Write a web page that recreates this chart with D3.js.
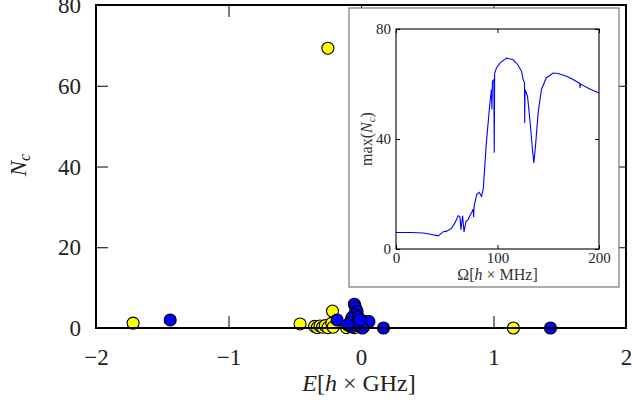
<!DOCTYPE html>
<html><head><meta charset="utf-8">
<script src="https://cdn.jsdelivr.net/npm/d3@7"></script>
<style>
html,body{margin:0;padding:0;background:#fff;}
text{font-family:"Liberation Serif","DejaVu Serif",serif;}
</style></head>
<body><svg id="c" width="632" height="402"></svg>
<script>
// ---- data ----
const yellowPts = [
  [-1.72,1.2],[-0.46,1.0],[-0.25,69.3],[-0.215,4.2],[-0.35,0.4],[-0.33,0.1],
  [-0.31,0.5],[-0.29,0.2],[-0.27,0.6],[-0.25,0.1],[-0.22,1.2],[-0.21,0.2],
  [-0.11,0.1],[-0.08,0.4],[-0.05,0.1],[-0.03,0.7],[1.15,0.0]
];
const bluePts = [
  [-1.44,2.0],[-0.18,2.0],[-0.05,5.9],[-0.04,5.0],[-0.03,4.1],[-0.05,3.3],
  [-0.07,2.5],[-0.08,1.5],[-0.07,0.3],[-0.02,2.7],[0.0,1.2],[0.02,0.3],
  [0.03,1.6],[0.06,1.6],[0.01,0.0],[-0.04,0.8],[-0.01,2.0],[-0.10,0.8],
  [0.17,0.0],[1.43,0.0]
];
const insetCurve = [
  [0,6.0],[15,6.0],[27,5.8],[35,5.3],[41.7,4.8],[46.6,6.3],[50,6.5],[54.8,7.6],
  [58,9.5],[61.3,12.1],[63,11.8],[64,7.0],[65.6,12.1],[67,6.2],[68.9,10.0],
  [71,10.7],[72.8,12.1],[74.5,13.3],[76,14.5],[76.5,11.6],[76.9,15.3],
  [79.4,19.8],[82,20.6],[84.3,19.1],[86,22],[89,38.5],[92.5,53],[94,58],
  [94.5,50.7],[95,61],[96.4,61.6],[96.8,35],[97.2,64],[99,65.8],[102.3,67.6],
  [109,69.4],[115.5,68.8],[120,67],[123.7,64.6],[125.3,61.6],[126.6,60.5],
  [126.8,45.8],[127.1,58],[129.6,55.5],[131.9,47],[134.5,36],[135.8,31.3],
  [137.4,37.3],[140,49.4],[143.3,58],[148,62.2],[154.8,64],[159.7,63.8],
  [168,62.8],[174.5,61.6],[181,60.2],[181.4,58.6],[181.8,60.0],[190.9,58.2],[200,56.7]
];
const mainXTicks = [-2,-1,0,1,2];
const mainYTicks = [0,20,40,60,80];
const insetXTicks = [0,100,200];
const insetYTicks = [0,40,80];

// ---- layout ----
const svg = d3.select("#c");
const M = {l:96, r:626, t:5, b:328};
const x = d3.scaleLinear().domain([-2,2]).range([M.l, M.r]);
const y = d3.scaleLinear().domain([0,80]).range([M.b, M.t]);
const fmt = d3.format("d");

function styleAxis(g, fs){
  g.select(".domain").remove();
  g.selectAll(".tick line").attr("stroke","#000").attr("stroke-width",1);
  g.selectAll(".tick text").attr("font-size",fs).attr("fill","#222")
   .style("font-family","'Liberation Serif','DejaVu Serif',serif");
}

// main axes
svg.append("g").attr("transform",`translate(0,${M.b})`)
  .call(d3.axisBottom(x).tickValues(mainXTicks).tickFormat(fmt).tickSize(-12).tickPadding(21).tickSizeOuter(0))
  .call(g=>styleAxis(g,23));
svg.append("g").attr("transform",`translate(0,${M.t})`)
  .call(d3.axisTop(x).tickValues(mainXTicks).tickSize(-12).tickSizeOuter(0).tickFormat(""))
  .call(g=>styleAxis(g,23));
svg.append("g").attr("transform",`translate(${M.l},0)`)
  .call(d3.axisLeft(y).tickValues(mainYTicks).tickFormat(fmt).tickSize(-12).tickPadding(15).tickSizeOuter(0))
  .call(g=>{styleAxis(g,23); g.selectAll(".tick text").attr("dy","0.33em");});
svg.append("g").attr("transform",`translate(${M.r},0)`)
  .call(d3.axisRight(y).tickValues(mainYTicks).tickSize(-12).tickSizeOuter(0).tickFormat(""))
  .call(g=>styleAxis(g,23));

// scatter points
const pts = svg.append("g");
pts.selectAll("circle.y").data(yellowPts).join("circle").attr("class","y")
  .attr("cx",d=>x(d[0])).attr("cy",d=>y(d[1])).attr("r",6)
  .attr("fill","#ffff00").attr("stroke","#000").attr("stroke-width",1.1);
pts.selectAll("circle.b").data(bluePts).join("circle").attr("class","b")
  .attr("cx",d=>x(d[0])).attr("cy",d=>y(d[1])).attr("r",6)
  .attr("fill","#0000ff").attr("stroke","#000").attr("stroke-width",1.1);

// frame
svg.append("rect").attr("x",M.l).attr("y",M.t).attr("width",M.r-M.l).attr("height",M.b-M.t)
  .attr("fill","none").attr("stroke","#000").attr("stroke-width",2);

// axis labels
svg.append("text").attr("x",(M.l+M.r)/2-2).attr("y",391).attr("text-anchor","middle")
  .attr("font-size",24).attr("fill","#222")
  .call(t=>{
    t.append("tspan").attr("font-style","italic").text("E");
    t.append("tspan").text("[");
    t.append("tspan").attr("font-style","italic").text("h");
    t.append("tspan").text(" × GHz]");
  });
svg.append("text").attr("transform","translate(26,165) rotate(-90)").attr("text-anchor","middle")
  .attr("font-size",23).attr("fill","#222")
  .call(t=>{
    t.append("tspan").attr("font-style","italic").text("N");
    t.append("tspan").attr("font-style","italic").attr("font-size",16).attr("dy",4).text("c");
  });

// ---- inset ----
const B = {x0:349, y0:8, x1:619, y1:287};
svg.append("rect").attr("x",B.x0).attr("y",B.y0).attr("width",B.x1-B.x0).attr("height",B.y1-B.y0)
  .attr("fill","#fff").attr("stroke","#777").attr("stroke-width",1.2);

const I = {l:396, r:599, t:29, b:249};
const xi = d3.scaleLinear().domain([0,200]).range([I.l, I.r]);
const yi = d3.scaleLinear().domain([0,80]).range([I.b, I.t]);

svg.append("g").attr("transform",`translate(0,${I.b})`)
  .call(d3.axisBottom(xi).tickValues(insetXTicks).tickSize(-4).tickPadding(3).tickSizeOuter(0).tickFormat(fmt))
  .call(g=>styleAxis(g,15));
svg.append("g").attr("transform",`translate(0,${I.t})`)
  .call(d3.axisTop(xi).tickValues(insetXTicks).tickSize(-4).tickSizeOuter(0).tickFormat(""))
  .call(g=>styleAxis(g,15));
svg.append("g").attr("transform",`translate(${I.l},0)`)
  .call(d3.axisLeft(yi).tickValues(insetYTicks).tickFormat(fmt).tickSize(-4).tickPadding(5).tickSizeOuter(0))
  .call(g=>{styleAxis(g,15); g.selectAll(".tick text").attr("dy","0.33em");});
svg.append("g").attr("transform",`translate(${I.r},0)`)
  .call(d3.axisRight(yi).tickValues(insetYTicks).tickSize(-4).tickSizeOuter(0).tickFormat(""))
  .call(g=>styleAxis(g,15));

svg.append("path").datum(insetCurve)
  .attr("d",d3.line().x(d=>xi(d[0])).y(d=>yi(d[1])))
  .attr("fill","none").attr("stroke","#0000ff").attr("stroke-width",1.1);

svg.append("rect").attr("x",I.l).attr("y",I.t).attr("width",I.r-I.l).attr("height",I.b-I.t)
  .attr("fill","none").attr("stroke","#000").attr("stroke-width",1.1);

svg.append("text").attr("x",(I.l+I.r)/2).attr("y",280).attr("text-anchor","middle")
  .attr("font-size",16).attr("fill","#333")
  .call(t=>{
    t.append("tspan").text("Ω[");
    t.append("tspan").attr("font-style","italic").text("h");
    t.append("tspan").text(" × MHz]");
  });
svg.append("text").attr("transform",`translate(372,${(I.t+I.b)/2}) rotate(-90)`).attr("text-anchor","middle")
  .attr("font-size",16).attr("fill","#333")
  .call(t=>{
    t.append("tspan").text("max(");
    t.append("tspan").attr("font-style","italic").text("N");
    t.append("tspan").attr("font-style","italic").attr("font-size",11).attr("dy",3).text("c");
    t.append("tspan").attr("dy",-3).text(")");
  });
</script></body></html>
